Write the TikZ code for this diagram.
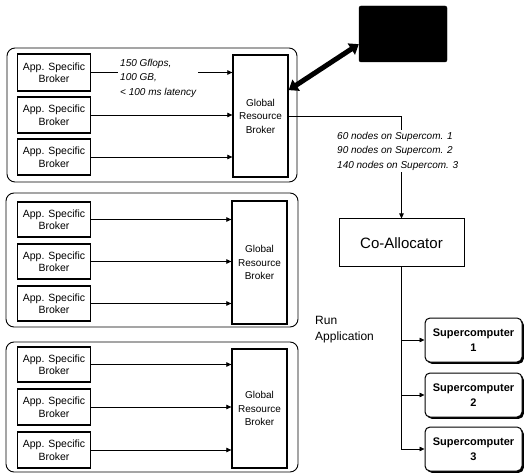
\documentclass[tikz,border=0pt]{standalone}
\usepackage{fontspec}
\setmainfont{Liberation Sans}
\usetikzlibrary{arrows.meta,shadows,calc}
\begin{document}
\begin{tikzpicture}[x=1pt,y=-1pt,
  group/.style={draw,line width=0.9pt,rounded corners=8pt},
  asb/.style={draw,line width=1.6pt,minimum width=73pt,minimum height=36pt,inner sep=1pt,align=center,font=\fontsize{10.5}{12.5}\selectfont},
  grb/.style={draw,line width=1.3pt,minimum width=55pt,inner sep=1pt,align=center,font=\fontsize{10}{13.5}\selectfont},
  link/.style={line width=0.7pt,-{Triangle[length=5pt,width=4.5pt]}},
  info/.style={align=left,font=\fontsize{10}{14.5}\selectfont\itshape,inner sep=2pt},
  sc/.style={draw,line width=1pt,rounded corners=5pt,minimum width=97pt,minimum height=44pt,align=center,fill=white,
    font=\fontsize{11}{15}\selectfont\bfseries,
    drop shadow={shadow xshift=1.8pt,shadow yshift=-1.8pt,fill=black,opacity=1}},
  big/.style={line width=5pt,{Triangle[length=9pt,width=13pt]}-{Triangle[length=9pt,width=13pt]}}]
\useasboundingbox (0,0) rectangle (525,473);

% groups
\node[group,minimum width=290pt,minimum height=134pt] (g1) at (152,115) {};
\node[group,minimum width=292pt,minimum height=134pt] (g2) at (152,260) {};
\node[group,minimum width=292pt,minimum height=130pt] (g3) at (152,407) {};

% group 1
\node[asb,minimum height=37pt] (a11) at (54,72.5) {App. Specific\\Broker};
\node[asb] (a12) at (54,115) {App. Specific\\Broker};
\node[asb] (a13) at (54,157) {App. Specific\\Broker};
\node[grb,minimum height=122pt] (grb1) at (260.5,116) {Global\\Resource\\Broker};
\draw[link] (a11.east) -- (a11.east -| grb1.west);
\draw[link] (a12.east) -- (a12.east -| grb1.west);
\draw[link] (a13.east) -- (a13.east -| grb1.west);
\node[info,fill=white,anchor=west] (req) at (118,78) {150 Gflops,\\100 GB,\\< 100 ms latency};

% group 2
\node[asb,minimum height=35pt] (a21) at (54,219.5) {App. Specific\\Broker};
\node[asb,minimum height=35pt] (a22) at (54,261.5) {App. Specific\\Broker};
\node[asb,minimum height=35pt] (a23) at (54,303.5) {App. Specific\\Broker};
\node[grb,minimum height=123pt] (grb2) at (259.5,262.5) {Global\\Resource\\Broker};
\draw[link] (a21.east) -- (a21.east -| grb2.west);
\draw[link] (a22.east) -- (a22.east -| grb2.west);
\draw[link] (a23.east) -- (a23.east -| grb2.west);

% group 3
\node[asb,minimum height=35pt] (a31) at (54,364.5) {App. Specific\\Broker};
\node[asb] (a32) at (54,407) {App. Specific\\Broker};
\node[asb] (a33) at (54,450) {App. Specific\\Broker};
\node[grb,minimum height=119pt] (grb3) at (259.5,408.5) {Global\\Resource\\Broker};
\draw[link] (a31.east) -- (a31.east -| grb3.west);
\draw[link] (a32.east) -- (a32.east -| grb3.west);
\draw[link] (a33.east) -- (a33.east -| grb3.west);

% black box and thick arrow
\node[fill=black,draw=black,rounded corners=2pt,minimum width=88pt,minimum height=56pt] (bb) at (403,34) {};
\draw[big] ($(grb1.north east)!0.29!(grb1.south east)$) -- ($(bb.south west)!0.32!(bb.north west)$);

% co-allocator
\node[draw,line width=1pt,minimum width=125pt,minimum height=48pt,font=\fontsize{15}{18}\selectfont] (co) at (401.5,243) {Co-Allocator};
\draw[link] (grb1.east) -| (co.north);
\node[info,fill=white,anchor=west] (alloc) at (335,151) {60 nodes on Supercom. 1\\90 nodes on Supercom. 2\\140 nodes on Supercom. 3};

\node[align=left,anchor=west,font=\fontsize{12}{16}\selectfont,inner sep=1pt] (run) at (314,330) {Run\\Application};

% supercomputers
\node[sc] (sc1) at (473.5,340) {Supercomputer\\1};
\node[sc] (sc2) at (473.5,395) {Supercomputer\\2};
\node[sc] (sc3) at (473.5,449) {Supercomputer\\3};
\draw[link] (co.south) |- (sc1.west);
\draw[link] (co.south) |- (sc2.west);
\draw[link] (co.south) |- (sc3.west);
\end{tikzpicture}
\end{document}
